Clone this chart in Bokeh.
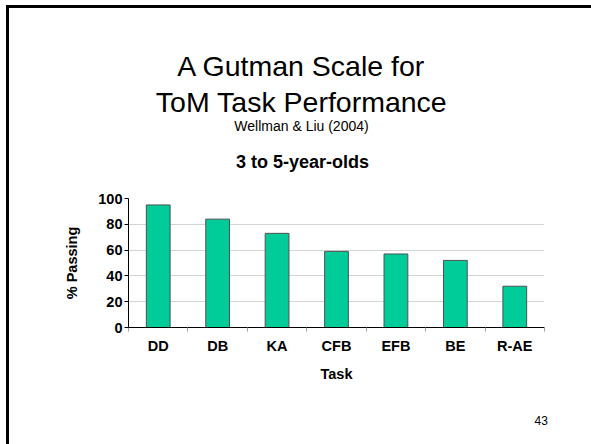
from bokeh.plotting import figure
from bokeh.models import Range1d, FixedTicker, Title
from bokeh.layouts import column
from bokeh.core.properties import value
from bokeh.embed import file_html
from bokeh.resources import INLINE

# ---- data ----
tasks = ["DD", "DB", "KA", "CFB", "EFB", "BE", "R-AE"]
passing = [95, 84, 73, 59, 57, 52, 32]
y_ticks = [0, 20, 40, 60, 80, 100]
title_lines = ["A Gutman Scale for", "ToM Task Performance"]
source_text = "Wellman & Liu (2004)"
subtitle = "3 to 5-year-olds"
x_label = "Task"
y_label = "% Passing"
slide_number = "43"

FONT = "Liberation Sans"
W = 582
LEFT, RIGHT = 119, 47   # frame borders; frames of stacked plots are aligned

# ---- top strip: titles (data coords == page pixels) ----
tf = figure(width=W, height=180, output_backend="svg", toolbar_location=None,
            x_range=Range1d(128, 544), y_range=Range1d(188, 8),
            x_axis_location=None, y_axis_location=None,
            min_border_left=LEFT, min_border_right=RIGHT, min_border_top=0, min_border_bottom=0)
tf.grid.grid_line_color = None
tf.outline_line_color = None
tf.text(x=[301, 301], y=[65.7, 101.7], text=title_lines, text_align="center",
        text_baseline="alphabetic", text_font=value(FONT), text_font_size="28.5px",
        text_color="black")
tf.text(x=[301], y=[125], text=[source_text], text_align="center",
        text_baseline="alphabetic", text_font=value(FONT), text_font_size="14px",
        text_color="black")
tf.text(x=[302], y=[161.7], text=[subtitle], text_align="center",
        text_baseline="alphabetic", text_font=value(FONT), text_font_size="18px",
        text_font_style="bold", text_color="black")

# ---- chart ----
xs = [i + 0.5 for i in range(len(tasks))]
cf = figure(width=W, height=256, output_backend="svg", toolbar_location=None,
            x_range=Range1d(0, len(tasks)), y_range=Range1d(0, 100),
            min_border_left=LEFT, min_border_right=RIGHT, min_border_top=10, min_border_bottom=117)
cf.outline_line_color = None
cf.vbar(x=xs, top=passing, width=0.4, fill_color="#00CC99", line_color="#505050", line_width=1)

cf.xgrid.grid_line_color = None
cf.ygrid.grid_line_color = "#d4d4d4"
cf.ygrid.ticker = FixedTicker(ticks=y_ticks[1:])

cf.xaxis.ticker = FixedTicker(ticks=xs, minor_ticks=list(range(len(tasks) + 1)))
cf.xaxis.major_label_overrides = {x: t for x, t in zip(xs, tasks)}
cf.xaxis.major_tick_line_color = None
cf.xaxis.major_tick_out = 4
cf.xaxis.major_tick_in = 0
cf.xaxis.minor_tick_line_color = "#a0a0a0"
cf.xaxis.minor_tick_out = 4
cf.xaxis.minor_tick_in = 0
cf.xaxis.axis_line_color = "black"
cf.xaxis.major_label_standoff = 6
cf.xaxis.axis_label = x_label
cf.xaxis.axis_label_standoff = 9

cf.yaxis.ticker = FixedTicker(ticks=y_ticks)
cf.yaxis.minor_tick_line_color = None
cf.yaxis.major_tick_out = 4
cf.yaxis.major_tick_in = 0
cf.yaxis.major_tick_line_color = "black"
cf.yaxis.axis_line_color = "black"
cf.yaxis.major_label_standoff = 2
cf.yaxis.axis_label = y_label
cf.yaxis.axis_label_standoff = 15

for ax in (cf.xaxis, cf.yaxis):
    ax.major_label_text_font = FONT
    ax.major_label_text_font_style = "bold"
    ax.major_label_text_font_size = "14.5px"
    ax.major_label_text_color = "black"
    ax.axis_label_text_font = FONT
    ax.axis_label_text_font_style = "bold"
    ax.axis_label_text_font_size = "14.5px"
    ax.axis_label_text_color = "black"

# spacer between the axis panel and the slide number
cf.add_layout(Title(text=" ", text_font=FONT, text_font_size="9px", standoff=12), "below")
# slide number
cf.add_layout(Title(text=slide_number, align="left", offset=406, standoff=10,
                    text_font=FONT, text_font_size="12px", text_font_style="normal",
                    text_color="black"), "below")

layout = column(tf, cf, spacing=0)
layout.styles = {"margin-left": "6px", "margin-top": "5px",
                 "border-top": "3px solid black", "border-left": "3px solid black"}

open("out.html", "w").write(file_html(layout, INLINE))
